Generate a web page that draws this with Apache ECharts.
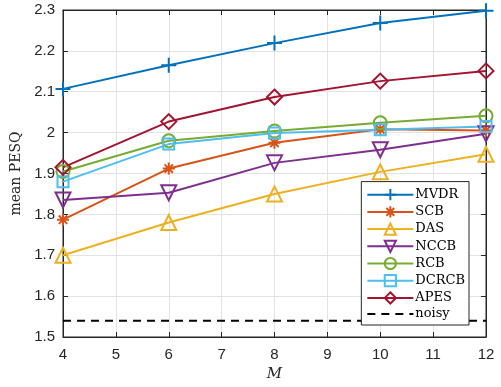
<!DOCTYPE html>
<html><head><meta charset="utf-8">
<script src="https://cdn.jsdelivr.net/npm/echarts@6/dist/echarts.min.js"></script>
<style>html,body{margin:0;padding:0;background:#fff}#c{width:501px;height:387px}</style>
</head><body><div id="c"></div>
<script>
const M = [4, 6, 8, 10, 12];
const MVDR  = [2.107, 2.165, 2.219, 2.268, 2.298];
const SCB   = [1.787, 1.912, 1.975, 2.008, 2.005];
const DAS   = [1.700, 1.780, 1.850, 1.904, 1.947];
const NCCB  = [1.835, 1.853, 1.926, 1.958, 1.997];
const RCB   = [1.905, 1.980, 2.004, 2.024, 2.041];
const DCRCB = [1.880, 1.972, 1.999, 2.007, 2.015];
const APES  = [1.915, 2.027, 2.087, 2.126, 2.151];
const noisy = [1.54, 1.54, 1.54, 1.54, 1.54];

const PLUS = 'path://M0,-1L0,1M-1,0L1,0';
const STAR = 'path://M0,-1L0,1M-1,0L1,0M-0.7,-0.7L0.7,0.7M-0.7,0.7L0.7,-0.7';
const defs = [
  ['MVDR', MVDR, '#0072BD', PLUS, 15],
  ['SCB', SCB, '#D95319', STAR, 12],
  ['DAS', DAS, '#EDB120', 'triangle', 15],
  ['NCCB', NCCB, '#7E2F8E', 'path://M-1,-0.8L1,-0.8L0,0.9Z', 15],
  ['RCB', RCB, '#77AC30', 'circle', 13],
  ['DCRCB', DCRCB, '#4DBEEE', 'rect', 11],
  ['APES', APES, '#A2142F', 'diamond', 15]
];
const series = defs.map(d => ({
  name: d[0], type: 'line',
  data: M.map((x, i) => [x, d[1][i]]),
  symbol: d[3], symbolSize: d[4], showAllSymbol: true,
  lineStyle: {color: d[2], width: 2},
  itemStyle: {color: 'none', borderColor: d[2], borderWidth: 2},
  emphasis: {disabled: true}, z: 3
}));
series.push({
  name: 'noisy', type: 'line', data: M.map((x, i) => [x, noisy[i]]),
  symbol: 'none', lineStyle: {color: '#000', width: 2, type: [8, 6]},
  itemStyle: {color: 'none', borderColor: 'none', borderWidth: 0}, z: 2
});

const chart = echarts.init(document.getElementById('c'), null, {renderer: 'canvas'});
const axisCol = '#262626';
chart.setOption({
  animation: false,
  grid: {left: 63, right: 15, top: 10, bottom: 50, show: true, borderColor: axisCol, borderWidth: 1},
  xAxis: [{
    type: 'value', min: 4, max: 12, interval: 1,
    axisLine: {show: true, lineStyle: {color: axisCol}},
    axisTick: {inside: true, length: 5, lineStyle: {color: axisCol}},
    axisLabel: {color: axisCol, fontSize: 15, fontFamily: 'Liberation Sans', margin: 10},
    splitLine: {lineStyle: {color: '#e3e3e3'}},
    name: 'M', nameLocation: 'middle', nameGap: 30,
    nameTextStyle: {fontFamily: 'DejaVu Serif', fontStyle: 'italic', fontSize: 15, color: axisCol}
  }, {
    type: 'value', min: 4, max: 12, interval: 1, position: 'top',
    axisLine: {show: true, lineStyle: {color: axisCol}},
    axisTick: {inside: true, length: 5, lineStyle: {color: axisCol}},
    axisLabel: {show: false}, splitLine: {show: false}
  }],
  yAxis: [{
    type: 'value', min: 1.5, max: 2.3, interval: 0.1,
    axisLine: {show: true, lineStyle: {color: axisCol}},
    axisTick: {inside: true, length: 5, lineStyle: {color: axisCol}},
    axisLabel: {color: axisCol, fontSize: 15, fontFamily: 'Liberation Sans', margin: 8,
      formatter: v => String(parseFloat(v.toFixed(1)))},
    splitLine: {lineStyle: {color: '#e3e3e3'}},
    name: 'mean PESQ', nameLocation: 'middle', nameGap: 38,
    nameTextStyle: {fontFamily: 'DejaVu Serif', fontSize: 14, color: axisCol}
  }, {
    type: 'value', min: 1.5, max: 2.3, interval: 0.1, position: 'right',
    axisLine: {show: true, lineStyle: {color: axisCol}},
    axisTick: {inside: true, length: 5, lineStyle: {color: axisCol}},
    axisLabel: {show: false}, splitLine: {show: false}
  }],
  legend: {
    orient: 'vertical', right: 32, bottom: 62,
    backgroundColor: '#fff', borderColor: axisCol, borderWidth: 1,
    padding: [5, 4, 4, 5], itemGap: 1, itemWidth: 46, itemHeight: 14,
    textStyle: {fontFamily: 'DejaVu Serif', fontSize: 13, lineHeight: 14, color: '#000', padding: [0, 0, 0, -3]},
    data: defs.map(d => d[0]).concat(['noisy'])
  },
  series: series
});
</script></body></html>
